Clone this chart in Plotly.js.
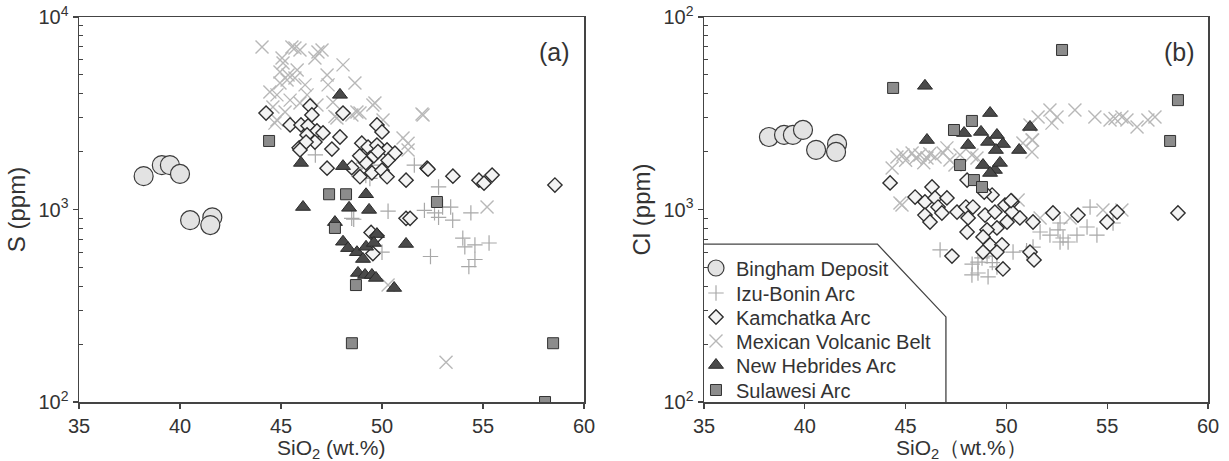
<!DOCTYPE html>
<html>
<head>
<meta charset="utf-8">
<script src="https://cdn.plot.ly/plotly-3.0.1.min.js"></script>
<style>html,body{margin:0;padding:0;background:#fff;}#chart{width:1229px;height:461px;}</style>
</head>
<body>
<div id="chart"></div>
<script>
// ---------- series names ----------
const seriesNames = ["Bingham Deposit","Izu-Bonin Arc","Kamchatka Arc","Mexican Volcanic Belt","New Hebrides Arc","Sulawesi Arc"];

// ---------- panel (a): SiO2 vs S (ppm) ----------
const bingA_x = [38.2, 39.1, 39.5, 40.0, 40.5, 41.6, 41.5];
const bingA_y = [1490, 1700, 1700, 1530, 880, 910, 830];

const izuA_x = [46.7, 51.6, 52.8, 50.3, 52.1, 52.6, 53.0, 53.4, 53.5, 54.4, 52.8, 48.6, 50.0, 52.4, 54.0, 54.1, 54.6, 55.3, 54.6, 54.3, 48.5, 49.2, 49.5, 48.8, 49.4];
const izuA_y = [1920, 1700, 1310, 980, 990, 960, 1030, 1030, 880, 960, 910, 890, 600, 570, 710, 640, 655, 670, 550, 505, 900, 1500, 1700, 1550, 1450];

const kamA_x = [44.26, 45.45, 45.9, 45.99, 46.44, 46.53, 46.34, 46.78, 47.08, 46.29, 46.68, 46.24, 45.94, 47.52, 47.92, 48.07, 49.75, 50.0, 49.0, 49.31, 49.75, 50.25, 50.64, 47.28, 49.41, 52.23, 48.91, 49.5, 50.0, 50.25, 51.19, 52.28, 53.51, 54.8, 55.05, 55.45, 58.56, 51.19, 51.39, 49.46, 49.55, 49.75, 48.5, 49.2, 49.6, 50.3, 48.9, 49.8];
const kamA_y = [3170, 2750, 2090, 2750, 3450, 3100, 2720, 2560, 2500, 2440, 2240, 2240, 2040, 2060, 2380, 3170, 2750, 2530, 2210, 2110, 2160, 2040, 1960, 1640, 1850, 1640, 1480, 1550, 1600, 1480, 1420, 1620, 1490, 1420, 1370, 1510, 1340, 900, 900, 760, 590, 730, 1650, 1750, 1900, 1800, 1900, 2000];

const mexA_x = [44.06, 45.54, 45.1, 44.95, 44.8, 44.6, 45.45, 45.3, 45.8, 44.8, 45.94, 46.83, 46.68, 48.07, 45.05, 44.95, 45.35, 45.69, 46.19, 47.28, 47.33, 48.66, 44.45, 45.94, 45.2, 44.7, 47.57, 47.77, 48.51, 48.91, 49.55, 50.05, 51.04, 51.29, 51.98, 46.78, 46.29, 45.69, 47.03, 48.76, 49.65, 52.03, 51.29, 47.67, 48.91, 49.06, 55.2, 50.3, 53.17, 49.2, 48.8];
const mexA_y = [6980, 6980, 5770, 4540, 3940, 3410, 3700, 4710, 5310, 2920, 6740, 6580, 6120, 5640, 6120, 5180, 5000, 4820, 4440, 5000, 4440, 4540, 4080, 3570, 3210, 2810, 3610, 2990, 3100, 3170, 3490, 2920, 2350, 2040, 3130, 3490, 3940, 6900, 6740, 3210, 3570, 3100, 2210, 3040, 1810, 1660, 1030, 405, 161, 1700, 1600];

const nhA_x = [47.92, 45.99, 48.07, 49.21, 46.09, 48.37, 49.36, 47.67, 49.75, 48.07, 48.32, 48.76, 49.21, 49.6, 49.06, 51.19, 48.81, 49.16, 49.5, 49.7, 50.6];
const nhA_y = [3940, 1745, 1680, 1200, 1030, 1020, 995, 860, 745, 680, 630, 600, 640, 670, 553, 662, 468, 457, 457, 441, 391];

const sulA_x = [44.41, 47.38, 48.22, 52.72, 47.67, 48.71, 48.51, 58.47, 58.07];
const sulA_y = [2270, 1200, 1200, 1094, 802, 405, 202, 202, 100];

// ---------- panel (b): SiO2 vs Cl (ppm) ----------
const bingB_x = [38.22, 38.97, 39.41, 39.91, 40.56, 41.6, 41.55];
const bingB_y = [2380, 2440, 2440, 2590, 2040, 2190, 1990];

const izuB_x = [46.71, 48.29, 48.59, 49.09, 48.59, 48.79, 49.04, 49.53, 50.33, 51.32, 51.67, 52.16, 52.56, 52.81, 53.06, 53.5, 54.15, 54.0, 54.49, 55.29, 52.66, 52.66, 48.3, 49.3, 51.0];
const izuB_y = [617, 457, 468, 447, 533, 560, 573, 503, 601, 638, 764, 736, 784, 711, 678, 736, 1030, 811, 736, 851, 851, 678, 520, 530, 610];

const kamB_x = [44.23, 45.47, 46.31, 45.96, 46.46, 47.05, 46.61, 45.96, 46.21, 46.8, 47.55, 47.99, 48.34, 48.1, 48.05, 48.94, 49.43, 49.93, 50.28, 50.28, 50.03, 49.53, 49.04, 48.84, 49.19, 49.78, 49.53, 48.84, 49.83, 50.67, 51.32, 51.17, 51.37, 52.31, 53.55, 54.99, 55.49, 58.51, 47.3, 49.29, 50.23, 48.05, 48.9];
const kamB_y = [1374, 1161, 1309, 1094, 1148, 1148, 1030, 935, 861, 959, 970, 1030, 1030, 904, 764, 935, 970, 1054, 1094, 970, 861, 802, 784, 720, 655, 655, 601, 601, 491, 904, 861, 601, 547, 959, 935, 861, 970, 959, 573, 1189, 1111, 1422, 1230];

const mexB_x = [44.57, 44.87, 45.32, 45.71, 46.06, 46.46, 46.86, 47.2, 47.45, 47.7, 48.29, 44.33, 44.72, 44.82, 47.05, 48.54, 50.82, 51.3, 51.17, 51.57, 52.16, 52.51, 53.4, 52.26, 54.39, 55.14, 55.39, 55.73, 55.98, 56.48, 57.02, 57.37, 51.27, 51.27, 50.58, 51.67, 53.16, 54.79, 55.73, 45.0, 45.5, 46.2, 45.9];
const mexB_y = [1875, 1920, 1963, 1920, 1854, 1875, 1963, 1808, 1702, 1920, 1920, 1644, 1081, 1054, 2090, 1854, 2213, 2296, 2748, 3020, 3290, 3020, 3290, 2810, 3020, 2917, 2970, 3020, 2917, 2684, 2917, 3020, 2296, 1990, 1119, 904, 904, 994, 994, 1800, 1850, 1950, 1750];

const nhB_x = [45.96, 49.19, 46.06, 51.17, 47.9, 48.1, 48.74, 49.09, 49.53, 49.83, 49.48, 50.63, 48.84, 49.43, 49.68, 49.19];
const nhB_y = [4390, 3170, 2296, 2684, 2495, 2163, 2529, 2244, 2437, 2188, 2037, 2037, 1702, 1604, 1745, 1548];

const sulB_x = [44.38, 52.76, 58.51, 58.12, 48.29, 47.4, 47.7, 48.39, 48.79];
const sulB_y = [4280, 6740, 3700, 2270, 2884, 2588, 1702, 1422, 1309];

// ---------- axis tick labels ----------
const xTickVals = [35, 40, 45, 50, 55, 60];
const yTickValsA = [100, 1000, 10000];
const yTickTextA = ["10<sup>2</sup>", "10<sup>3</sup>", "10<sup>4</sup>"];
const yTickValsB = [100, 1000, 10000];
const yTickTextB = ["10<sup>2</sup>", "10<sup>3</sup>", "10<sup>2</sup>"];
const xTitleA = "SiO<sub>2</sub> (wt.%)";
const xTitleB = "SiO<sub>2</sub>（wt.%）";

// ---------- styles ----------
const styles = [
  {symbol: "circle", size: 19, color: "#e3e3e3", line: {color: "#3a3a3a", width: 1.2}},
  {symbol: "cross-thin", size: 11, color: "#a8a8a8", line: {color: "#a8a8a8", width: 1.2}},
  {symbol: "diamond", size: 11, color: "#f4f4f4", line: {color: "#2f2f2f", width: 1.4}},
  {symbol: "x-thin", size: 13, color: "#b8b8b8", line: {color: "#b8b8b8", width: 1.4}},
  {symbol: "triangle-up", size: 13, color: "#4a4a4a", line: {color: "#2a2a2a", width: 1}},
  {symbol: "square", size: 11, color: "#8c8c8c", line: {color: "#333333", width: 1}}
];
// drawing order (x marks beneath diamonds)
const drawOrder = [0, 3, 1, 2, 4, 5];

const panelA = [[bingA_x, bingA_y], [izuA_x, izuA_y], [kamA_x, kamA_y], [mexA_x, mexA_y], [nhA_x, nhA_y], [sulA_x, sulA_y]];
const panelB = [[bingB_x, bingB_y], [izuB_x, izuB_y], [kamB_x, kamB_y], [mexB_x, mexB_y], [nhB_x, nhB_y], [sulB_x, sulB_y]];
const legendIds = ["legend", "legend2", "legend3", "legend4", "legend5", "legend6"];

const traces = [];
drawOrder.forEach(i => {
  traces.push({
    type: "scatter", mode: "markers", name: seriesNames[i],
    x: panelA[i][0], y: panelA[i][1], xaxis: "x", yaxis: "y",
    marker: styles[i], showlegend: false, hoverinfo: "x+y+name"
  });
});
drawOrder.forEach(i => {
  traces.push({
    type: "scatter", mode: "markers", name: seriesNames[i],
    x: panelB[i][0], y: panelB[i][1], xaxis: "x2", yaxis: "y2",
    marker: styles[i], showlegend: true, legend: legendIds[i], hoverinfo: "x+y+name"
  });
});

const FONT = "Liberation Sans, Arial, sans-serif";
const TXT = "#333333";
const AXC = "#444444";

function minorVals() {
  const v = [];
  for (let d = 100; d < 10000; d *= 10) for (let k = 2; k <= 9; k++) v.push(k * d);
  return v;
}

function xAxis(domain, anchor) {
  return {
    domain: domain, anchor: anchor, range: [35, 60], tickmode: "array", tickvals: xTickVals,
    ticks: "outside", ticklen: 5, tickwidth: 1.3, tickcolor: AXC,
    showline: true, linecolor: AXC, linewidth: 1.5, mirror: true,
    showgrid: false, zeroline: false,
    tickfont: {family: FONT, size: 20, color: TXT}
  };
}
function yAxis(domain, title, anchor, tv, tt) {
  return {
    domain: domain, anchor: anchor, type: "log", range: [2, 4],
    tickmode: "array", tickvals: tv, ticktext: tt,
    ticks: "outside", ticklen: 5, tickwidth: 1.3, tickcolor: AXC,
    minor: {tickmode: "array", tickvals: minorVals(), ticks: "inside", ticklen: 4, tickwidth: 1, tickcolor: AXC, showgrid: false},
    showline: true, linecolor: AXC, linewidth: 1.5, mirror: true,
    showgrid: false, zeroline: false,
    tickfont: {family: FONT, size: 20, color: TXT},
    title: {text: title, font: {family: FONT, size: 24, color: TXT}, standoff: 6}
  };
}
// inner halves of the crossing major ticks
function xInner(overlay, anchor, domain) {
  return {overlaying: overlay, anchor: anchor, domain: domain, range: [35, 60], tickmode: "array", tickvals: xTickVals,
    ticks: "inside", ticklen: 5, tickwidth: 1.3, tickcolor: AXC, showticklabels: false,
    showline: false, showgrid: false, zeroline: false};
}
function yInner(overlay, anchor, tv) {
  return {overlaying: overlay, anchor: anchor, type: "log", range: [2, 4], tickmode: "array", tickvals: tv,
    ticks: "inside", ticklen: 5, tickwidth: 1.3, tickcolor: AXC, showticklabels: false,
    showline: false, showgrid: false, zeroline: false};
}

const legendCentersPx = [268, 293, 317, 341, 365, 390];
const layout = {
  width: 1229, height: 461,
  margin: {l: 79, r: 21, t: 17, b: 59},
  paper_bgcolor: "#ffffff", plot_bgcolor: "#ffffff",
  font: {family: FONT, color: TXT},
  xaxis: xAxis([0, 0.4473], "y"),
  yaxis: yAxis([0, 1], "S (ppm)", "x", yTickValsA, yTickTextA),
  xaxis2: xAxis([0.5536, 1], "y2"),
  yaxis2: yAxis([0, 1], "Cl (ppm)", "x2", yTickValsB, yTickTextB),
  xaxis3: xInner("x", "y", [0, 0.4473]),
  yaxis3: yInner("y", "x", yTickValsA),
  xaxis4: xInner("x2", "y2", [0.5536, 1]),
  yaxis4: yInner("y2", "x2", yTickValsB),
  annotations: [
    {text: "(a)", xref: "paper", yref: "paper", x: 0.4216, y: 0.909, xanchor: "center", yanchor: "middle", showarrow: false, font: {family: FONT, size: 25, color: TXT}},
    {text: "(b)", xref: "paper", yref: "paper", x: 0.975, y: 0.909, xanchor: "center", yanchor: "middle", showarrow: false, font: {family: FONT, size: 25, color: TXT}},
    {text: xTitleA, xref: "paper", yref: "paper", x: 0.2237, y: -0.121, xanchor: "center", yanchor: "middle", showarrow: false, font: {family: FONT, size: 21, color: TXT}},
    {text: xTitleB, xref: "paper", yref: "paper", x: 0.782, y: -0.121, xanchor: "center", yanchor: "middle", showarrow: false, font: {family: FONT, size: 21, color: TXT}}
  ],
  shapes: [
    {type: "path", xref: "x2", yref: "paper", path: "M35,0.410 L43.6,0.410 L47,0.221 L47,0", line: {color: AXC, width: 1.3}}
  ]
};
legendIds.forEach((id, i) => {
  layout[id] = {
    x: 0.5465, xanchor: "left", y: (402 - legendCentersPx[i]) / 385, yanchor: "middle",
    bgcolor: "rgba(0,0,0,0)", borderwidth: 0, itemsizing: "trace",
    font: {family: FONT, size: 20, color: TXT}
  };
});

Plotly.newPlot("chart", traces, layout, {displayModeBar: false, staticPlot: true});
</script>
</body>
</html>
